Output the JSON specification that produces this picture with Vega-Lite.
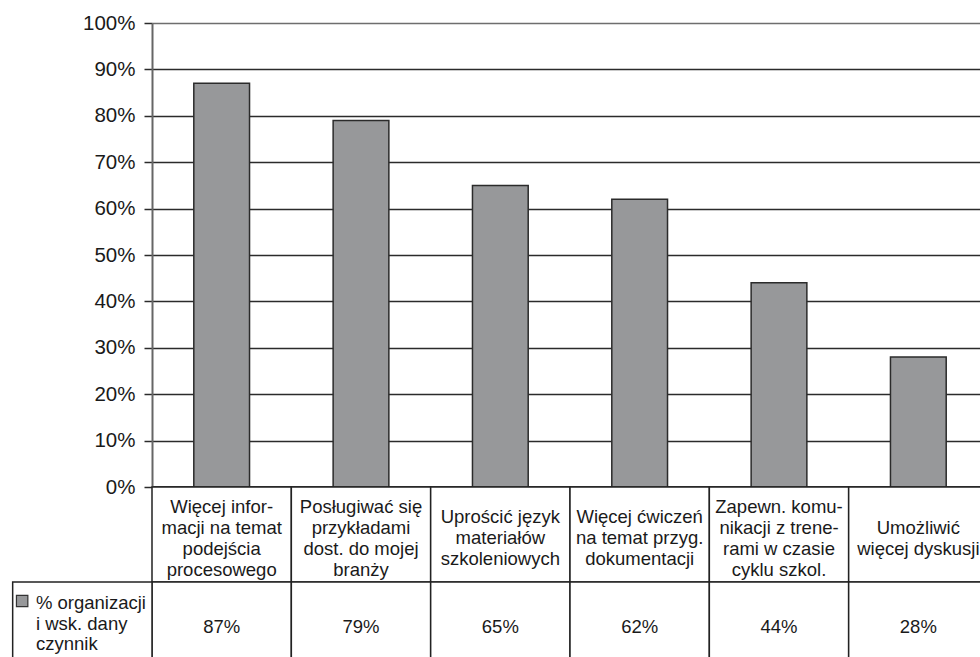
{
  "$schema": "https://vega.github.io/schema/vega-lite/v6.json",
  "padding": {"left": 11, "top": 13, "right": 0, "bottom": 0},
  "background": "white",
  "config": {"font": "Liberation Sans", "view": {"stroke": null}},
  "bounds": "flush",
  "spacing": 0,
  "resolve": {"scale": {"x": "independent", "y": "independent"}},
  "datasets": {
    "dane": [
      {"kategoria": "Więcej informacji na temat podejścia procesowego", "etykieta": "Więcej infor-\nmacji na temat\npodejścia\nprocesowego", "udzial": 0.87},
      {"kategoria": "Posługiwać się przykładami dost. do mojej branży", "etykieta": "Posługiwać się\nprzykładami\ndost. do mojej\nbranży", "udzial": 0.79},
      {"kategoria": "Uprościć język materiałów szkoleniowych", "etykieta": "Uprościć język\nmateriałów\nszkoleniowych", "udzial": 0.65},
      {"kategoria": "Więcej ćwiczeń na temat przyg. dokumentacji", "etykieta": "Więcej ćwiczeń\nna temat przyg.\ndokumentacji", "udzial": 0.62},
      {"kategoria": "Zapewn. komunikacji z trenerami w czasie cyklu szkol.", "etykieta": "Zapewn. komu-\nnikacji z trene-\nrami w czasie\ncyklu szkol.", "udzial": 0.44},
      {"kategoria": "Umożliwić więcej dyskusji", "etykieta": "Umożliwić\nwięcej dyskusji", "udzial": 0.28}
    ],
    "seria": [
      {"kategoria": "seria", "nazwa": "% organizacji\ni wsk. dany\nczynnik"}
    ]
  },
  "vconcat": [
    {
      "width": 836,
      "height": 464,
      "data": {"name": "dane"},
      "mark": {"type": "bar", "fill": "#97989a", "stroke": "#2b2b2b", "strokeWidth": 1.5},
      "encoding": {
        "x": {
          "field": "kategoria", "type": "nominal", "sort": null,
          "scale": {"paddingInner": 0.6, "paddingOuter": 0.3},
          "axis": {"labels": false, "ticks": false, "title": null, "domain": true, "domainColor": "#111111", "domainWidth": 2.5}
        },
        "y": {
          "field": "udzial", "type": "quantitative",
          "scale": {"domain": [0, 1]},
          "axis": {
            "values": [0, 0.1, 0.2, 0.3, 0.4, 0.5, 0.6, 0.7, 0.8, 0.9, 1],
            "format": ".0%", "title": null,
            "labelFont": "Liberation Sans", "labelFontSize": 20.5, "labelColor": "#1a1a1a",
            "tickSize": 8, "tickColor": "#2b2b2b", "tickWidth": 1.5, "labelPadding": 9,
            "domainColor": "#666666", "domainWidth": 2,
            "grid": true,
            "gridColor": {"condition": {"test": "datum.value == 1", "value": "#6e6e6e"}, "value": "#2b2b2b"},
            "gridWidth": 1.5
          }
        }
      }
    },
    {
      "width": 836,
      "height": 190,
      "encoding": {
        "x": {
          "field": "kategoria", "type": "nominal", "sort": null,
          "scale": {
            "domain": ["seria", "Więcej informacji na temat podejścia procesowego", "Posługiwać się przykładami dost. do mojej branży", "Uprościć język materiałów szkoleniowych", "Więcej ćwiczeń na temat przyg. dokumentacji", "Zapewn. komunikacji z trenerami w czasie cyklu szkol.", "Umożliwić więcej dyskusji"],
            "range": [-139.33, 836], "paddingInner": 0, "paddingOuter": 0
          },
          "axis": null
        }
      },
      "layer": [
        {
          "data": {"name": "dane"},
          "mark": {"type": "rect", "fill": "white", "stroke": "#222222", "strokeWidth": 1.5},
          "encoding": {
            "y": {"datum": "naglowek", "type": "nominal", "scale": {"domain": ["naglowek", "wartosc"], "paddingInner": 0, "paddingOuter": 0}, "axis": null}
          }
        },
        {
          "data": {"name": "dane"},
          "mark": {"type": "rect", "fill": "white", "stroke": "#222222", "strokeWidth": 1.5},
          "encoding": {
            "y": {"datum": "wartosc", "type": "nominal"}
          }
        },
        {
          "data": {"name": "seria"},
          "mark": {"type": "rect", "fill": "white", "stroke": "#222222", "strokeWidth": 1.5},
          "encoding": {
            "y": {"datum": "wartosc", "type": "nominal"}
          }
        },
        {
          "data": {"name": "dane"},
          "transform": [{"filter": "length(split(datum.etykieta, '\\n')) == 4"}],
          "mark": {"type": "text", "font": "Liberation Sans", "fontSize": 18.5, "color": "#1a1a1a", "lineBreak": "\n", "lineHeight": 20.7, "align": "center", "baseline": "middle"},
          "encoding": {
            "y": {"datum": "naglowek", "type": "nominal", "bandPosition": 0.215},
            "text": {"field": "etykieta"}
          }
        },
        {
          "data": {"name": "dane"},
          "transform": [{"filter": "length(split(datum.etykieta, '\\n')) == 3"}],
          "mark": {"type": "text", "font": "Liberation Sans", "fontSize": 18.5, "color": "#1a1a1a", "lineBreak": "\n", "lineHeight": 20.7, "align": "center", "baseline": "middle"},
          "encoding": {
            "y": {"datum": "naglowek", "type": "nominal", "bandPosition": 0.32},
            "text": {"field": "etykieta"}
          }
        },
        {
          "data": {"name": "dane"},
          "transform": [{"filter": "length(split(datum.etykieta, '\\n')) == 2"}],
          "mark": {"type": "text", "font": "Liberation Sans", "fontSize": 18.5, "color": "#1a1a1a", "lineBreak": "\n", "lineHeight": 20.7, "align": "center", "baseline": "middle"},
          "encoding": {
            "y": {"datum": "naglowek", "type": "nominal", "bandPosition": 0.43},
            "text": {"field": "etykieta"}
          }
        },
        {
          "data": {"name": "dane"},
          "mark": {"type": "text", "font": "Liberation Sans", "fontSize": 18.5, "color": "#1a1a1a", "align": "center", "baseline": "middle"},
          "encoding": {
            "y": {"datum": "wartosc", "type": "nominal", "bandPosition": 0.47},
            "text": {"field": "udzial", "type": "quantitative", "format": ".0%"}
          }
        },
        {
          "data": {"name": "seria"},
          "mark": {"type": "text", "font": "Liberation Sans", "fontSize": 18.5, "color": "#1a1a1a", "lineBreak": "\n", "lineHeight": 20.7, "align": "left", "baseline": "middle"},
          "encoding": {
            "x": {"field": "kategoria", "type": "nominal", "bandPosition": 0.167},
            "y": {"datum": "wartosc", "type": "nominal", "bandPosition": 0.22},
            "text": {"field": "nazwa"}
          }
        },
        {
          "data": {"name": "seria"},
          "mark": {"type": "point", "shape": "square", "filled": true, "size": 130, "fill": "#97989a", "stroke": "#333333", "strokeWidth": 1.2, "opacity": 1},
          "encoding": {
            "x": {"field": "kategoria", "type": "nominal", "bandPosition": 0.068},
            "y": {"datum": "wartosc", "type": "nominal", "bandPosition": 0.2}
          }
        }
      ]
    }
  ]
}
